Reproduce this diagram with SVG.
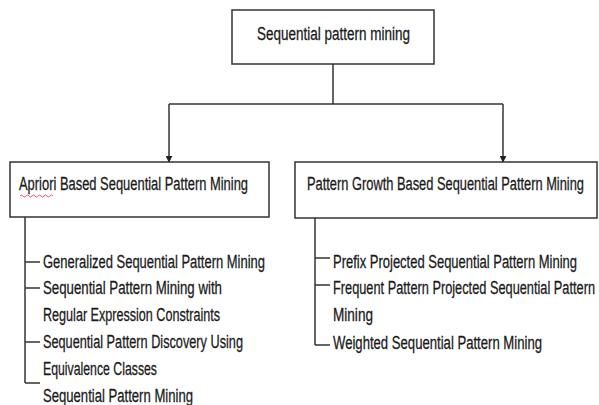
<svg xmlns="http://www.w3.org/2000/svg" width="599" height="405" viewBox="0 0 599 405">
<defs>
<marker id="arr" viewBox="0 0 10 10" refX="9" refY="5" markerWidth="7" markerHeight="7" orient="auto" markerUnits="userSpaceOnUse">
<path d="M0,0 L10,5 L0,10 Z" fill="#222"/>
</marker>
<style>
.box{fill:#fff;stroke:#333;stroke-width:1.5}
.ln{fill:none;stroke:#333;stroke-width:1.5}
.t{font-family:"Liberation Sans",Arial,sans-serif;font-size:19px;fill:#1a1a1a;stroke:#1a1a1a;stroke-width:0.3}
</style>
</defs>
<rect width="599" height="405" fill="#fff"/>
<g id="connectors">
<path class="ln" d="M333,64 V104"/>
<path class="ln" d="M169,104 H503"/>
<path class="ln" d="M169,104 V162" marker-end="url(#arr)"/>
<path class="ln" d="M503,104 V162" marker-end="url(#arr)"/>
<path class="ln" d="M25,217 V383"/>
<path class="ln" d="M25,262 H40 M25,288 H40 M25,342 H40 M25,383 H40"/>
<path class="ln" d="M315,218 V345"/>
<path class="ln" d="M315,258 H330 M315,285 H330 M315,345 H330"/>
</g>
<g id="root">
<rect class="box" x="232" y="10" width="202" height="54"/>
<text class="t" transform="translate(257,40) scale(0.62,1)" textLength="246.8" lengthAdjust="spacingAndGlyphs">Sequential pattern mining</text>
</g>
<g id="apriori">
<rect class="box" x="10" y="162" width="259" height="55"/>
<text class="t" transform="translate(19,190) scale(0.62,1)" textLength="369.4" lengthAdjust="spacingAndGlyphs">Apriori Based Sequential Pattern Mining</text>
<path d="M20,196 q1.5,-2 3,0 t3,0 t3,0 t3,0 t3,0 t3,0 t3,0 t3,0 t3,0 t3,0 t3,0" fill="none" stroke="#d33" stroke-width="0.8"/>
</g>
<g id="pattern-growth">
<rect class="box" x="295" y="162" width="302" height="56"/>
<text class="t" transform="translate(307,190) scale(0.62,1)" textLength="446.8" lengthAdjust="spacingAndGlyphs">Pattern Growth Based Sequential Pattern Mining</text>
</g>
<g id="apriori-items">
<text class="t" transform="translate(43,268) scale(0.62,1)" textLength="358.1" lengthAdjust="spacingAndGlyphs">Generalized Sequential Pattern Mining</text>
<text class="t" transform="translate(43,294) scale(0.62,1)" textLength="288.7" lengthAdjust="spacingAndGlyphs">Sequential Pattern Mining with</text>
<text class="t" transform="translate(43,321) scale(0.62,1)" textLength="285.5" lengthAdjust="spacingAndGlyphs">Regular Expression Constraints</text>
<text class="t" transform="translate(43,348) scale(0.62,1)" textLength="322.6" lengthAdjust="spacingAndGlyphs">Sequential Pattern Discovery Using</text>
<text class="t" transform="translate(43,375) scale(0.62,1)" textLength="183.9" lengthAdjust="spacingAndGlyphs">Equivalence Classes</text>
<text class="t" transform="translate(43,402) scale(0.62,1)" textLength="241.9" lengthAdjust="spacingAndGlyphs">Sequential Pattern Mining</text>
</g>
<g id="growth-items">
<text class="t" transform="translate(333,268) scale(0.62,1)" textLength="393.5" lengthAdjust="spacingAndGlyphs">Prefix Projected Sequential Pattern Mining</text>
<text class="t" transform="translate(333,294) scale(0.62,1)" textLength="422.6" lengthAdjust="spacingAndGlyphs">Frequent Pattern Projected Sequential Pattern</text>
<text class="t" transform="translate(333,321) scale(0.62,1)" textLength="64.5" lengthAdjust="spacingAndGlyphs">Mining</text>
<text class="t" transform="translate(333,349) scale(0.62,1)" textLength="337.1" lengthAdjust="spacingAndGlyphs">Weighted Sequential Pattern Mining</text>
</g>
</svg>
